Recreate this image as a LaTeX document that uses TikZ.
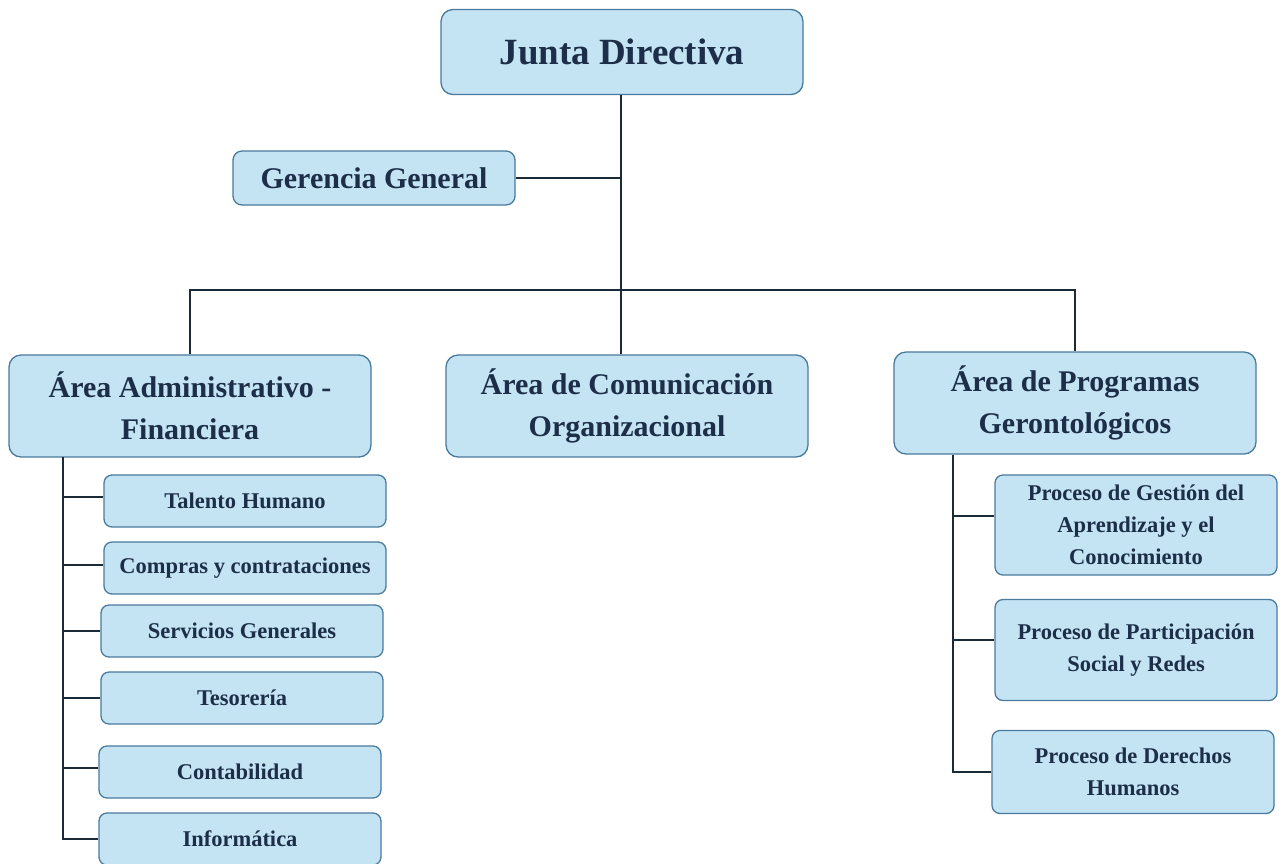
\documentclass[tikz,border=0pt]{standalone}
\usepackage{fontspec}
\setmainfont{Liberation Serif}
\usetikzlibrary{positioning, calc}

\definecolor{boxFill}{HTML}{C4E4F4}
\definecolor{boxLine}{HTML}{4A7A9C}
\definecolor{textNavy}{HTML}{1C2E48}
\definecolor{linkDark}{HTML}{1A2A38}

\begin{document}
\begin{tikzpicture}[
    x=1pt, y=-1pt,
    orgBox/.style={rectangle, rounded corners=12pt, draw=boxLine, line width=1.3pt, fill=boxFill, text=textNavy, align=center, inner sep=0pt},
    topBox/.style={orgBox, minimum width=362pt, minimum height=85pt, font=\bfseries\fontsize{37}{40}\selectfont},
    midBox/.style={orgBox, rounded corners=9pt, minimum width=282pt, minimum height=54pt, font=\bfseries\fontsize{30}{42}\selectfont},
    areaBox/.style={orgBox, minimum width=362pt, minimum height=102pt, font=\bfseries\fontsize{30}{42}\selectfont},
    unitBox/.style={orgBox, rounded corners=8pt, minimum width=282pt, minimum height=52pt, font=\bfseries\fontsize{22.5}{32}\selectfont},
    link/.style={draw=linkDark, line width=2.2pt}
]
    \useasboundingbox (0,0) rectangle (1284,863);

    % --- TOP LEVEL ---
    \node[topBox] (junta) at (622, 52) {Junta Directiva};
    \node[midBox] (gerencia) at (374, 178) {Gerencia General};

    % --- AREAS ---
    \node[areaBox] (admArea) at (190, 406) {Área Administrativo -\\Financiera};
    \node[areaBox] (comArea) at (627, 406) {Área de Comunicación\\Organizacional};
    \node[areaBox] (progArea) at (1075, 403) {Área de Programas\\Gerontológicos};

    % --- UNITS OF THE ADMINISTRATIVE AREA ---
    \node[unitBox] (talento) at (245, 501) {Talento Humano};
    \node[unitBox] (compras) at (245, 568) {Compras y contrataciones};
    \node[unitBox] (servicios) at (242, 631) {Servicios Generales};
    \node[unitBox] (tesoreria) at (242, 698) {Tesorería};
    \node[unitBox] (contabilidad) at (240, 772) {Contabilidad};
    \node[unitBox] (informatica) at (240, 839) {Informática};

    % --- PROCESSES OF THE PROGRAMS AREA ---
    \node[unitBox, minimum height=100pt] (gestion) at (1136, 525) {Proceso de Gestión del\\Aprendizaje y el\\Conocimiento};
    \node[unitBox, minimum height=101pt] (participacion) at (1136, 650) {Proceso de Participación\\Social y Redes};
    \node[unitBox, minimum height=83pt] (derechos) at (1133, 772) {Proceso de Derechos\\Humanos};

    % Branch points
    \coordinate (busMid) at (621, 290);
    \coordinate (admSpine) at (63, 457);
    \coordinate (progSpine) at (953, 455);

    % Trunk and bus
    \draw[link] (junta.south -| busMid) -- (busMid);
    \draw[link] (gerencia.east) -- (gerencia.east -| busMid);
    \draw[link] (admArea.north) |- (busMid) -| (progArea.north);
    \draw[link] (busMid) -- (busMid |- comArea.north);

    % Left spine
    \draw[link] (admSpine) |- (informatica.west);
    \draw[link] (admSpine) |- ([yshift=4pt]talento.west);
    \draw[link] (admSpine) |- ([yshift=3pt]compras.west);
    \draw[link] (admSpine) |- (servicios.west);
    \draw[link] (admSpine) |- (tesoreria.west);
    \draw[link] (admSpine) |- ([yshift=4pt]contabilidad.west);

    % Right spine
    \draw[link] (progSpine) |- (derechos.west);
    \draw[link] (progSpine) |- ([yshift=9pt]gestion.west);
    \draw[link] (progSpine) |- ([yshift=10pt]participacion.west);

\end{tikzpicture}
\end{document}
